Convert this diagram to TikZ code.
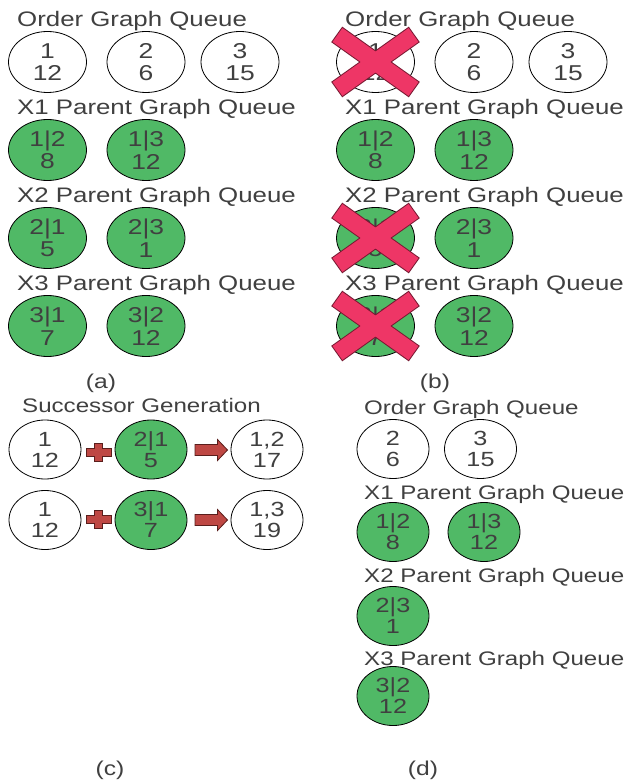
\documentclass[tikz,border=0pt]{standalone}
\usepackage{fontspec}
\setmainfont{Liberation Sans}[FakeStretch=1.23]
\usetikzlibrary{shapes.geometric}
\definecolor{txt}{RGB}{64,64,64}
\definecolor{grn}{RGB}{80,185,102}
\definecolor{xpink}{RGB}{238,54,102}
\definecolor{xedge}{RGB}{120,25,50}
\definecolor{opred}{RGB}{190,72,68}
\definecolor{opedge}{RGB}{90,30,28}
\tikzset{
  lblA/.style={anchor=base west, inner sep=0pt, text=txt, font=\fontsize{21}{25}\selectfont},
  lblB/.style={anchor=base west, inner sep=0pt, text=txt, font=\fontsize{19.6}{23}\selectfont},
  panelcap/.style={inner sep=0pt, text=txt, font=\fontsize{20}{24}\selectfont},
  ovalbase/.style={ellipse, draw=black, line width=0.8pt, inner xsep=-6pt, inner ysep=-14pt, align=center, text=txt},
  ovA/.style={ovalbase, minimum width=78pt, minimum height=61pt, font=\fontsize{21.5}{22.5}\selectfont},
  ovC/.style={ovalbase, minimum width=72pt, minimum height=59pt, font=\fontsize{20.5}{21}\selectfont},
  wht/.style={fill=white},
  gr/.style={fill=grn},
  crossedge/.style={draw=xedge, line width=19pt},
  crossfill/.style={draw=xpink, line width=17pt},
  opshape/.style={draw=opedge, fill=opred, line width=0.8pt, line join=miter},
}
\newcommand{\redcross}[1]{%
  \begin{scope}[shift={(#1)}]
    \draw[crossedge] (-38.8,-27.6) -- (38.8,27.6) (-38.8,27.6) -- (38.8,-27.6);
    \draw[crossfill] (-38,-27) -- (38,27) (-38,27) -- (38,-27);
  \end{scope}}
\newcommand{\plussign}[1]{%
  \begin{scope}[shift={(#1)}]
    \draw[opshape] (-12.5,-3.8) -- (-4.2,-3.8) -- (-4.2,-9) -- (4.2,-9) -- (4.2,-3.8) -- (12.5,-3.8) -- (12.5,3.8) -- (4.2,3.8) -- (4.2,9) -- (-4.2,9) -- (-4.2,3.8) -- (-12.5,3.8) -- cycle;
  \end{scope}}
\newcommand{\blockarrow}[1]{%
  \begin{scope}[shift={(#1)}]
    \draw[opshape] (-16,-5.5) -- (6.5,-5.5) -- (6.5,-10.5) -- (16.5,0) -- (6.5,10.5) -- (6.5,5.5) -- (-16,5.5) -- cycle;
  \end{scope}}
\begin{document}
\begin{tikzpicture}[x=1pt,y=-1pt]
\useasboundingbox[fill=white] (0,0) rectangle (626,783);

% ---------- (a) ----------
\node[lblA] (aL0) at (17,26.5) {Order Graph Queue};
\node[ovA,wht] (a01) at (47.5,62) {1\\12};
\node[ovA,wht] (a02) at (146,62) {2\\6};
\node[ovA,wht] (a03) at (240,62) {3\\15};
\node[lblA] (aL1) at (17,114.5) {X1 Parent Graph Queue};
\node[ovA,gr] (a11) at (47.5,150) {1|2\\8};
\node[ovA,gr] (a12) at (146,150) {1|3\\12};
\node[lblA] (aL2) at (17,202.5) {X2 Parent Graph Queue};
\node[ovA,gr] (a21) at (47.5,238) {2|1\\5};
\node[ovA,gr] (a22) at (146,238) {2|3\\1};
\node[lblA] (aL3) at (17,290.5) {X3 Parent Graph Queue};
\node[ovA,gr] (a31) at (47.5,326) {3|1\\7};
\node[ovA,gr] (a32) at (146,326) {3|2\\12};
\node[panelcap] (capa) at (101,383) {(a)};

% ---------- (b) ----------
\node[lblA] (bL0) at (345,26.5) {Order Graph Queue};
\node[ovA,wht] (b01) at (375.5,62) {1\\12};
\node[ovA,wht] (b02) at (474,62) {2\\6};
\node[ovA,wht] (b03) at (568,62) {3\\15};
\node[lblA] (bL1) at (345,114.5) {X1 Parent Graph Queue};
\node[ovA,gr] (b11) at (375.5,150) {1|2\\8};
\node[ovA,gr] (b12) at (474,150) {1|3\\12};
\node[lblA] (bL2) at (345,202.5) {X2 Parent Graph Queue};
\node[ovA,gr] (b21) at (375.5,238) {2|1\\5};
\node[ovA,gr] (b22) at (474,238) {2|3\\1};
\node[lblA] (bL3) at (345,290.5) {X3 Parent Graph Queue};
\node[ovA,gr] (b31) at (375.5,326) {3|1\\7};
\node[ovA,gr] (b32) at (474,326) {3|2\\12};
\node[panelcap] (capb) at (435,383) {(b)};
\redcross{b01.center}
\redcross{b21.center}
\redcross{b31.center}

% ---------- (c) ----------
\node[lblB] (cL0) at (22,412.5) {Successor Generation};
\node[ovC,wht] (c11) at (45,449.5) {1\\12};
\node[ovC,gr]  (c12) at (151,449.5) {2|1\\5};
\node[ovC,wht] (c13) at (267,449.5) {1,2\\17};
\node[ovC,wht] (c21) at (45,520) {1\\12};
\node[ovC,gr]  (c22) at (151,520) {3|1\\7};
\node[ovC,wht] (c23) at (267,520) {1,3\\19};
\coordinate (plus1) at (98.5,452.5);
\coordinate (plus2) at (98.5,519.5);
\coordinate (arr1) at (211,450);
\coordinate (arr2) at (211,520);
\plussign{plus1}
\plussign{plus2}
\blockarrow{arr1}
\blockarrow{arr2}
\node[panelcap] (capc) at (110,770) {(c)};

% ---------- (d) ----------
\node[lblB] (dL0) at (364,414) {Order Graph Queue};
\node[ovC,wht] (d01) at (393,449) {2\\6};
\node[ovC,wht] (d02) at (480.5,449) {3\\15};
\node[lblB] (dL1) at (364,499) {X1 Parent Graph Queue};
\node[ovC,gr] (d11) at (393,532) {1|2\\8};
\node[ovC,gr] (d12) at (484,532) {1|3\\12};
\node[lblB] (dL2) at (364,582) {X2 Parent Graph Queue};
\node[ovC,gr] (d21) at (393,616) {2|3\\1};
\node[lblB] (dL3) at (364,665) {X3 Parent Graph Queue};
\node[ovC,gr] (d31) at (393,696) {3|2\\12};
\node[panelcap] (capd) at (423,770) {(d)};
\end{tikzpicture}
\end{document}
